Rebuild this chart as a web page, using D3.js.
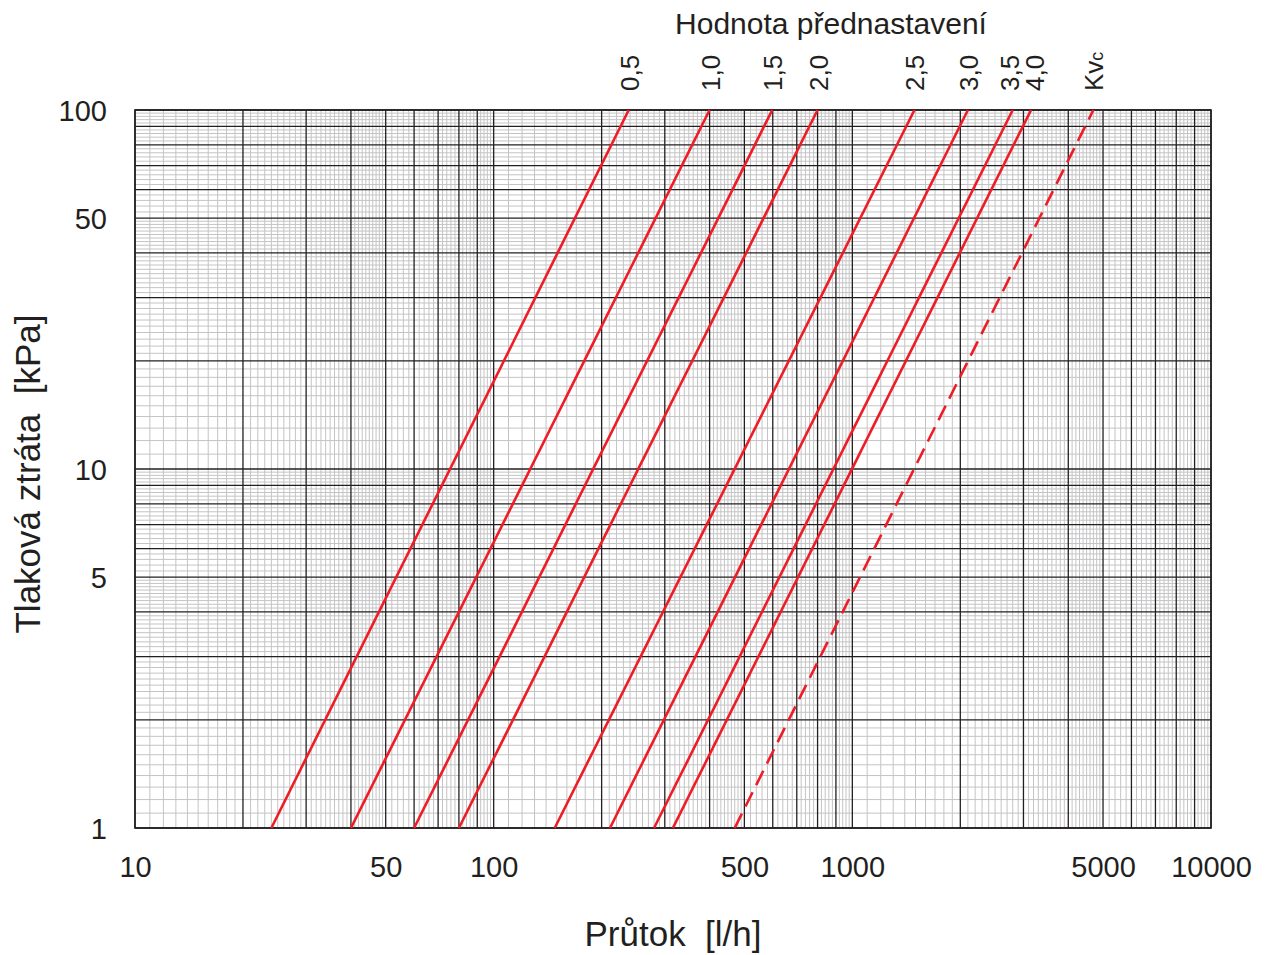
<!DOCTYPE html>
<html>
<head>
<meta charset="utf-8">
<script src="https://cdn.jsdelivr.net/npm/d3@7"></script>
<style>
  body { margin: 0; background: #fff; }
  text { font-family: "Liberation Sans", Arial, sans-serif; fill: #231f20; }
</style>
</head>
<body>
<div id="chart"></div>
<script>
// Data
//= ================================
var settingLabels = ["0,5", "1,0", "1,5", "2,0", "2,5", "3,0", "3,5", "4,0", "Kvc"];
// flow [l/h] where each line crosses 1 kPa and 100 kPa
var flowAt1kPa = [24, 40, 60, 80, 148, 211, 280, 316, 470];
var flowAt100kPa = [238, 400, 598, 800, 1490, 2100, 2800, 3150, 4700];
var dashedSeries = [false, false, false, false, false, false, false, false, true];

var xTickValues = [10, 50, 100, 500, 1000, 5000, 10000];
var yTickValues = [1, 5, 10, 50, 100];

// Chart setup
//= ================================
var svgWidth = 1271;
var svgHeight = 955;
var margin = { top: 110, right: 60, bottom: 127, left: 135 };
var width = svgWidth - margin.left - margin.right;
var height = svgHeight - margin.top - margin.bottom;

var svg = d3.select("#chart")
  .append("svg")
  .attr("width", svgWidth)
  .attr("height", svgHeight);

var chartGroup = svg.append("g")
  .attr("transform", `translate(${margin.left}, ${margin.top})`);

var xLogScale = d3.scaleLog().domain([10, 10000]).range([0, width]);
var yLogScale = d3.scaleLog().domain([1, 100]).range([height, 0]);

// grid values: majors at 1..9 per decade, minors finer
function gridValues(lo, hi) {
  var major = [], minor = [];
  for (var b = lo; b < hi; b *= 10) {
    for (var k = 1; k <= 9; k++) major.push(k * b);
    for (var j = 11; j < 50; j++) if (j % 10 !== 0) minor.push(j * b / 10);
    for (var j2 = 52; j2 < 100; j2 += 2) if (j2 % 10 !== 0) minor.push(j2 * b / 10);
  }
  major.push(hi);
  return { major: major, minor: minor };
}
var xGrid = gridValues(10, 10000);
var yGrid = gridValues(1, 100);

var gridGroup = chartGroup.append("g");

gridGroup.selectAll(".vminor").data(xGrid.minor).enter().append("line")
  .attr("x1", d => xLogScale(d)).attr("x2", d => xLogScale(d))
  .attr("y1", 0).attr("y2", height)
  .attr("stroke", "#c4c4c6").attr("stroke-width", 1);

gridGroup.selectAll(".hminor").data(yGrid.minor).enter().append("line")
  .attr("y1", d => yLogScale(d)).attr("y2", d => yLogScale(d))
  .attr("x1", 0).attr("x2", width)
  .attr("stroke", "#c4c4c6").attr("stroke-width", 1);

gridGroup.selectAll(".vmajor").data(xGrid.major).enter().append("line")
  .attr("x1", d => xLogScale(d)).attr("x2", d => xLogScale(d))
  .attr("y1", 0).attr("y2", height)
  .attr("stroke", "#231f20").attr("stroke-width", 1.3);

gridGroup.selectAll(".hmajor").data(yGrid.major).enter().append("line")
  .attr("y1", d => yLogScale(d)).attr("y2", d => yLogScale(d))
  .attr("x1", 0).attr("x2", width)
  .attr("stroke", "#231f20").attr("stroke-width", 1.3);

chartGroup.append("rect")
  .attr("width", width).attr("height", height)
  .attr("fill", "none").attr("stroke", "#231f20").attr("stroke-width", 1.6);

// Lines
//= ================================
var lineData = settingLabels.map(function(label, i) {
  return { label: label, dashed: dashedSeries[i],
    points: [[flowAt1kPa[i], 1], [flowAt100kPa[i], 100]] };
});

var lineGen = d3.line()
  .x(d => xLogScale(d[0]))
  .y(d => yLogScale(d[1]));

chartGroup.selectAll(".setLine")
  .data(lineData)
  .enter()
  .append("path")
  .attr("d", d => lineGen(d.points))
  .attr("fill", "none")
  .attr("stroke", "#ee1c25")
  .attr("stroke-width", 2.6)
  .attr("stroke-dasharray", d => d.dashed ? "16 8" : null);

// Setting labels above the plot
var labelShift = [1, 1, 1, 1, 0, 1, -3, 4, 0];
chartGroup.selectAll(".setLabel")
  .data(lineData)
  .enter()
  .append("text")
  .attr("transform", (d, i) => `translate(${xLogScale(d.points[1][0]) + labelShift[i]}, -19) rotate(-90)`)
  .attr("dy", "0.35em")
  .style("font-size", "26px")
  .each(function(d) {
    var t = d3.select(this);
    if (d.label === "Kvc") {
      t.append("tspan").text("Kv");
      t.append("tspan").style("font-size", "18px").text("c");
    } else {
      t.text(d.label);
    }
  });

// Axes
//= ================================
var bottomAxis = d3.axisBottom(xLogScale)
  .tickValues(xTickValues).tickSize(0).tickPadding(0)
  .tickFormat(d3.format("d"));
var leftAxis = d3.axisLeft(yLogScale)
  .tickValues(yTickValues).tickSize(0).tickPadding(0)
  .tickFormat(d3.format("d"));

var xAxisG = chartGroup.append("g")
  .attr("transform", `translate(0, ${height})`)
  .call(bottomAxis);
xAxisG.select(".domain").remove();
xAxisG.selectAll("text")
  .attr("y", 49).attr("dy", 0)
  .style("font-size", "29px").attr("fill", "#231f20");

var yAxisG = chartGroup.append("g").call(leftAxis);
yAxisG.select(".domain").remove();
yAxisG.selectAll("text")
  .attr("x", -28).attr("dy", "0.36em")
  .style("font-size", "29px").attr("fill", "#231f20");

// Titles
chartGroup.append("text")
  .attr("x", 538).attr("y", height + 118)
  .attr("text-anchor", "middle")
  .style("font-size", "35px")
  .style("white-space", "pre")
  .text("Průtok  [l/h]");

chartGroup.append("text")
  .attr("transform", "rotate(-90)")
  .attr("x", -(height / 2 + 5)).attr("y", -95)
  .attr("text-anchor", "middle")
  .style("font-size", "35px")
  .style("white-space", "pre")
  .text("Tlaková ztráta  [kPa]");

svg.append("text")
  .attr("x", 831).attr("y", 34)
  .attr("text-anchor", "middle")
  .style("font-size", "30px")
  .text("Hodnota přednastavení");
</script>
</body>
</html>
